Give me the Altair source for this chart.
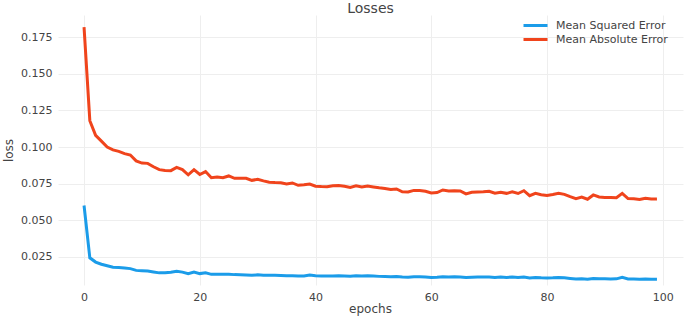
import altair as alt
import pandas as pd

epochs = list(range(100))

mae = [0.182, 0.118, 0.108, 0.104, 0.100, 0.098, 0.097, 0.0955, 0.0945, 0.0905,
       0.089, 0.0888, 0.0865, 0.0845, 0.084, 0.0838, 0.086, 0.0845, 0.081, 0.0845,
       0.0812, 0.0832, 0.079, 0.0795, 0.079, 0.0802, 0.0786, 0.0787, 0.0786, 0.0772,
       0.0779, 0.0768, 0.0759, 0.0757, 0.0756, 0.0747, 0.0754, 0.0738, 0.0742, 0.0747,
       0.0732, 0.0729, 0.0728, 0.0735, 0.0737, 0.0732, 0.0724, 0.0735, 0.0726, 0.0733,
       0.0727, 0.0721, 0.0716, 0.0709, 0.0713, 0.0694, 0.0692, 0.0703, 0.0702, 0.0697,
       0.0686, 0.0688, 0.0706, 0.0699, 0.0701, 0.0699, 0.0679, 0.069, 0.0692, 0.0694,
       0.0697, 0.0684, 0.069, 0.0683, 0.0693, 0.0682, 0.0701, 0.0667, 0.0683, 0.0674,
       0.0668, 0.0675, 0.0683, 0.0676, 0.066, 0.0647, 0.0658, 0.0643, 0.0672, 0.0658,
       0.0655, 0.0654, 0.0653, 0.0683, 0.0647, 0.0646, 0.0641, 0.065, 0.0644, 0.0645]

mse = [0.060, 0.0242, 0.0213, 0.0198, 0.0188, 0.0177, 0.0176, 0.0173, 0.0168, 0.0156,
       0.0154, 0.0151, 0.0145, 0.0139, 0.014, 0.0143, 0.015, 0.0144, 0.0133, 0.0145,
       0.0134, 0.014, 0.0129, 0.013, 0.0129, 0.013, 0.0127, 0.0126, 0.0124, 0.0122,
       0.0126, 0.0123, 0.0122, 0.0122, 0.0121, 0.0119, 0.012, 0.0117, 0.0118, 0.0124,
       0.0119, 0.0118, 0.0117, 0.0118, 0.0119, 0.0118, 0.0116, 0.012, 0.0117, 0.0119,
       0.0117, 0.0115, 0.0114, 0.0113, 0.0114, 0.011, 0.0109, 0.0112, 0.0112, 0.011,
       0.0108, 0.0109, 0.0112, 0.0111, 0.0112, 0.0111, 0.0107, 0.0109, 0.011, 0.011,
       0.0111, 0.0108, 0.011, 0.0108, 0.011, 0.0107, 0.0111, 0.0104, 0.0107, 0.0105,
       0.0104, 0.0105, 0.0107, 0.0105, 0.0101, 0.0097, 0.0099, 0.0095, 0.0101, 0.0098,
       0.0098, 0.0097, 0.0098, 0.0108, 0.0097, 0.0097, 0.0096, 0.0097, 0.0096, 0.0096]

series_names = ["Mean Squared Error", "Mean Absolute Error"]
series_colors = ["#1b9ce9", "#f0441c"]
x_ticks = [0, 20, 40, 60, 80, 100]
y_ticks = [0.025, 0.05, 0.075, 0.1, 0.125, 0.15, 0.175]

df = pd.concat([
    pd.DataFrame({"epochs": epochs, "loss": mse, "metric": series_names[0]}),
    pd.DataFrame({"epochs": epochs, "loss": mae, "metric": series_names[1]}),
])

FONT = "DejaVu Sans"
TXT = "#444444"

chart = alt.Chart(df).mark_line(strokeWidth=3).encode(
    x=alt.X("epochs:Q",
            scale=alt.Scale(domain=[-4.5, 103.5], nice=False, zero=False),
            axis=alt.Axis(values=x_ticks, title="epochs", grid=True, domain=False,
                          ticks=False, labelPadding=6, labelFontSize=11,
                          titleFontSize=12, titleFontWeight="normal",
                          titleX=312, titleY=23, titleBaseline="middle")),
    y=alt.Y("loss:Q",
            scale=alt.Scale(domain=[0.0056, 0.1903], nice=False, zero=False),
            axis=alt.Axis(values=y_ticks, format=".3f", title="loss", grid=True,
                          domain=False, ticks=False, labelPadding=6, labelFontSize=11,
                          titleFontSize=12, titleFontWeight="normal",
                          titleX=-50, titleY=135, titleBaseline="middle",
                          titleAngle=270)),
    color=alt.Color("metric:N",
                    scale=alt.Scale(domain=series_names, range=series_colors),
                    sort=series_names,
                    legend=alt.Legend(title=None, orient="none", legendX=470,
                                      legendY=3, symbolType="M-2,0L2,0",
                                      symbolSize=144, symbolStrokeWidth=3,
                                      labelFontSize=11, labelColor=TXT,
                                      labelFont=FONT, rowPadding=-3,
                                      labelOffset=13)),
).properties(
    width=625,
    height=270,
    title=alt.TitleParams("Losses", fontSize=14, fontWeight="normal", color=TXT,
                          font=FONT, anchor="middle", offset=-1),
    padding={"left": 58, "top": 15, "right": 2, "bottom": 31},
    autosize=alt.AutoSizeParams(type="none"),
).configure_view(
    stroke=None
).configure_axis(
    gridColor="#eeeeee",
    gridWidth=1,
    labelColor=TXT,
    titleColor=TXT,
    labelFont=FONT,
    titleFont=FONT,
)

chart.save("out.html", embed_options={"renderer": "svg", "actions": False})
